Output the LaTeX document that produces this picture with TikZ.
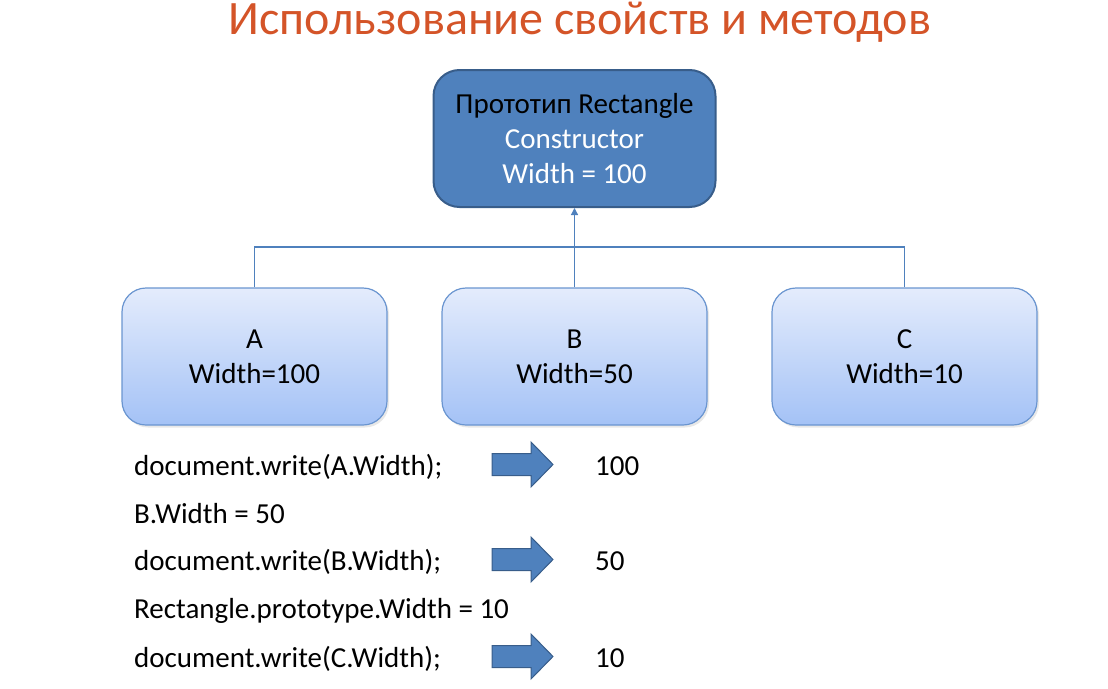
\documentclass[tikz,border=0pt]{standalone}
\usepackage{fontspec}
\setmainfont{Carlito}
\usetikzlibrary{shadows,arrows.meta}
\definecolor{titlecol}{RGB}{212,84,40}
\definecolor{darkblue}{RGB}{79,129,189}
\definecolor{darkborder}{RGB}{56,93,138}
\definecolor{lighttop}{RGB}{228,236,252}
\definecolor{lightbot}{RGB}{164,194,246}
\definecolor{lightborder}{RGB}{106,149,208}
\tikzset{
  txt/.style={font=\fontsize{29}{35}\selectfont, inner sep=0pt},
  protobox/.style={draw=darkborder, line width=2pt, fill=darkblue, rounded corners=26pt,
    minimum width=282pt, minimum height=137pt, align=center, text=white,
    font=\fontsize{29}{35}\selectfont},
  objbox/.style={draw=lightborder, line width=1.2pt, rounded corners=24pt,
    top color=lighttop, bottom color=lightbot, minimum width=265pt, minimum height=137pt,
    align=center, font=\fontsize{29}{35}\selectfont,
    drop shadow={shadow xshift=2pt, shadow yshift=-2.5pt, opacity=0.18}},
  conn/.style={draw=darkblue, line width=1.3pt},
  blockarrow/.style={fill=darkblue, draw=darkborder, line width=1pt},
}
\begin{document}
\begin{tikzpicture}[x=1pt,y=-1pt]
\useasboundingbox (0,0) rectangle (1108,688);
\node[text=titlecol, font=\fontsize{48}{54}\selectfont, inner sep=0pt] (title) at (580,22) {Использование свойств и методов};

\node[protobox] (P) at (574.5,138.5) {{\color{black}Прототип Rectangle}\\Constructor\\Width = 100};

\node[objbox] (A) at (254.5,356.5) {A\\Width=100};
\node[objbox] (B) at (574.5,356.5) {B\\Width=50};
\node[objbox] (C) at (904.5,356.5) {C\\Width=10};

\coordinate (J) at (574.5,247);
\draw[conn] (A.north) |- (J);
\draw[conn] (C.north) |- (J);
\draw[conn, -{Triangle[width=7pt,length=7pt]}] (B.north) -- (P.south);

\foreach \n/\t/\yy in {c1/{document.write(A.Width);}/466, c2/{B.Width = 50}/514, c3/{document.write(B.Width);}/561, c4/{Rectangle.prototype.Width = 10}/609, c5/{document.write(C.Width);}/658}{
  \node[txt, anchor=base west] (\n) at (134,\yy+9.5) {\t};
}
\foreach \n/\t/\yy in {r1/100/466, r3/50/561, r5/10/658}{
  \node[txt, anchor=base west] (\n) at (595,\yy+9.5) {\t};
}
\foreach \yy in {464.5, 559.5, 656.5}{
  \draw[blockarrow] (492,\yy-11) -- (531,\yy-11) -- (531,\yy-22.5) -- (553,\yy) -- (531,\yy+22.5) -- (531,\yy+11) -- (492,\yy+11) -- cycle;
}
\end{tikzpicture}
\end{document}
